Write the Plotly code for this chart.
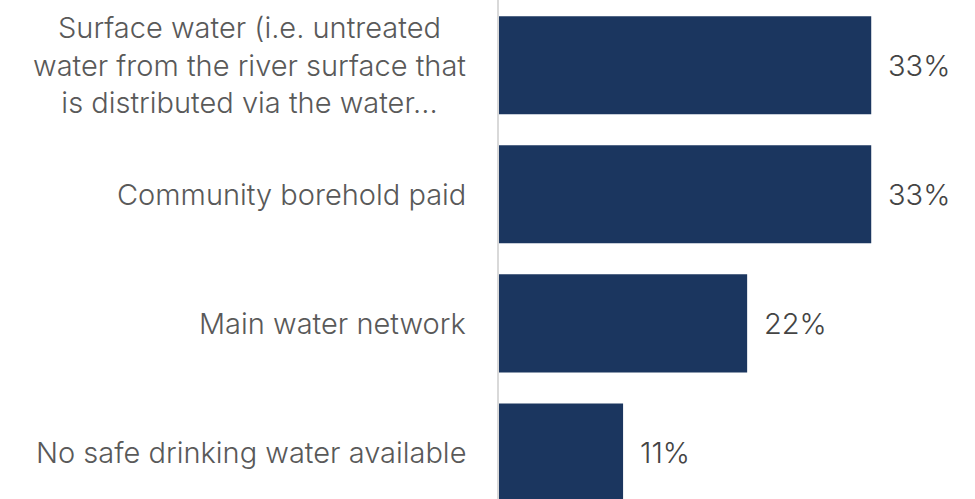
import plotly.graph_objects as go

# Drinking water sources, share of respondents (%)
categories = [
    "Surface water (i.e. untreated<br>water from the river surface that<br>is distributed via the water...",
    "Community borehold paid",
    "Main water network",
    "No safe drinking water available",
]
values = [33, 33, 22, 11]
value_labels = ["33%", "33%", "22%", "11%"]

BAR_COLOR = "#1b365f"
LABEL_COLOR = "#595959"
VALUE_COLOR = "#444444"
FONT = "Inter, Roboto, Arial, sans-serif"
SIZE = 29

fig = go.Figure(
    go.Bar(
        x=values,
        y=categories,
        orientation="h",
        marker=dict(color=BAR_COLOR, line=dict(width=0)),
        hoverinfo="skip",
    )
)

# Category labels: right-anchored blocks, lines centred within each block
for cat in categories:
    fig.add_annotation(
        x=0, xref="paper", y=cat, yref="y", text=cat, showarrow=False,
        xanchor="right", yanchor="middle", align="center", xshift=-31,
        font=dict(family=FONT, size=SIZE, color=LABEL_COLOR, weight=300),
    )

# Value labels just past the end of each bar
for v, cat, lab in zip(values, categories, value_labels):
    fig.add_annotation(
        x=v, y=cat, text=lab, showarrow=False,
        xanchor="left", yanchor="middle", xshift=15,
        font=dict(family=FONT, size=SIZE, color=VALUE_COLOR, weight=300),
    )

fig.update_layout(
    width=975, height=499,
    margin=dict(l=499, r=0, t=0, b=0),
    paper_bgcolor="white", plot_bgcolor="white",
    bargap=0.24,
    showlegend=False,
    font=dict(family=FONT, size=SIZE, color=LABEL_COLOR, weight=300),
)
fig.update_xaxes(
    range=[0, 42.2], visible=False, showgrid=False, zeroline=False,
)
fig.update_yaxes(
    type="category",
    range=[3.36, -0.505],
    showgrid=False, zeroline=False,
    showline=True, linecolor="#d9d9d9", linewidth=2,
    ticks="", showticklabels=False,
)

fig.write_html("out.html")
